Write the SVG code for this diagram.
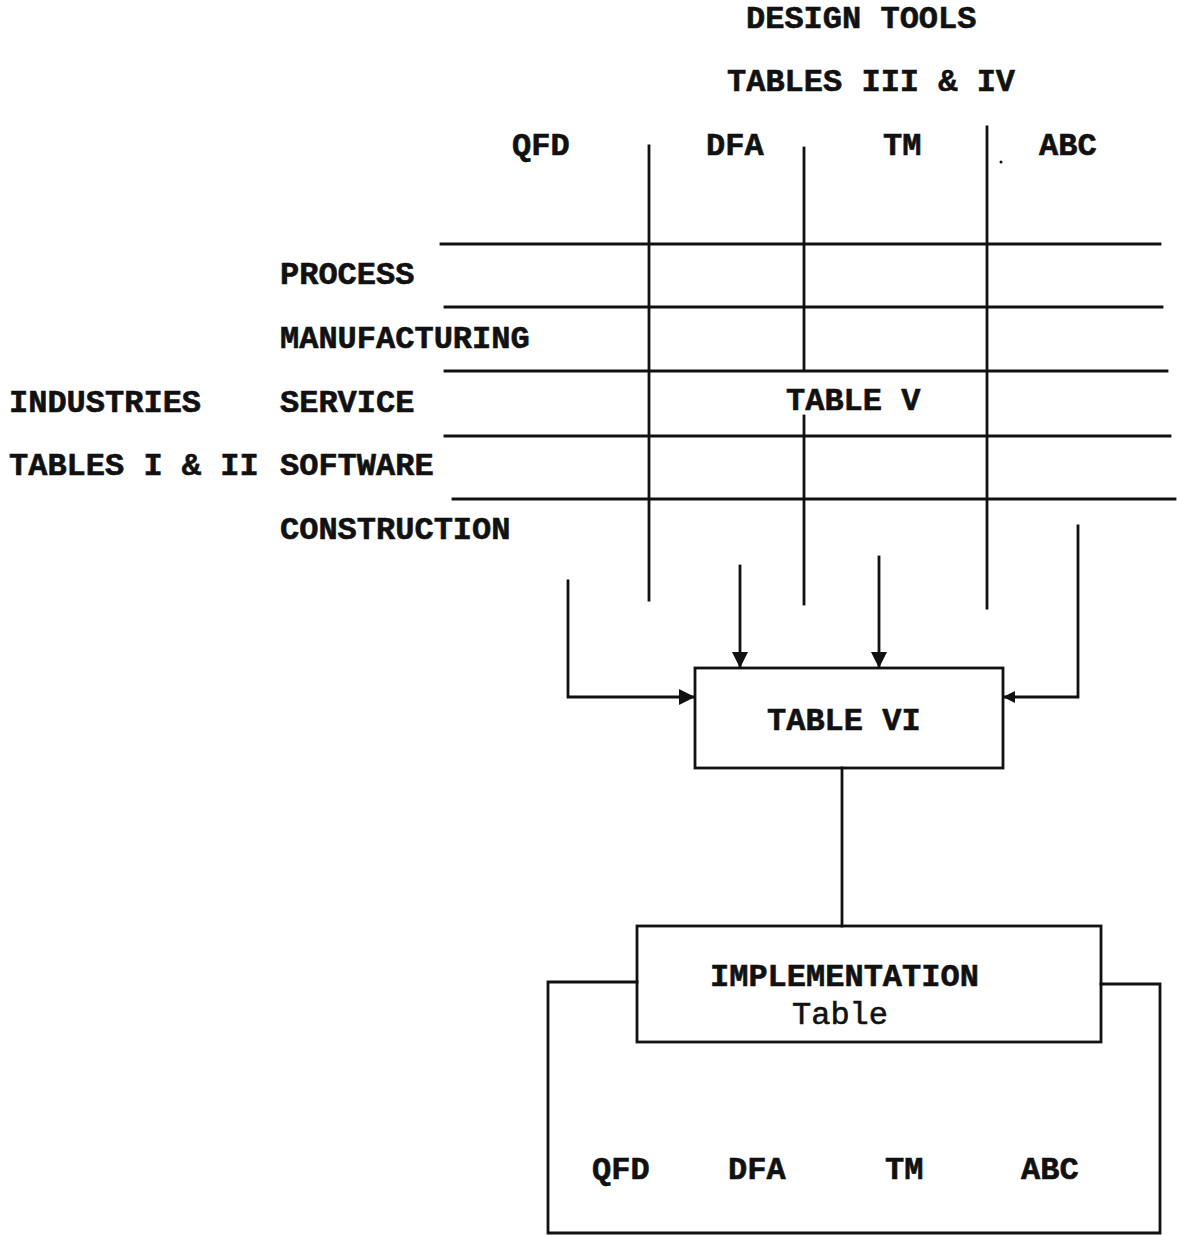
<svg xmlns="http://www.w3.org/2000/svg" width="1177" height="1235" viewBox="0 0 1177 1235">
<style>
  .t { font-family: "Liberation Mono", "Courier New", monospace; font-size: 32px; font-weight: bold; fill: #111; stroke: #111; stroke-width: 0.6; }
  .n { font-family: "Liberation Mono", "Courier New", monospace; font-size: 32px; font-weight: normal; fill: #111; stroke: #111; stroke-width: 0.6; }
  .ln { stroke: #111; stroke-width: 2.8; fill: none; stroke-linecap: square; }
</style>
<defs>
  <marker id="ah" viewBox="0 0 16 16" refX="15" refY="8" markerWidth="16" markerHeight="16" markerUnits="userSpaceOnUse" orient="auto">
    <path d="M0,0 L16,8 L0,16 Z" fill="#111"/>
  </marker>
  <marker id="ahs" viewBox="0 0 12 12" refX="11" refY="6" markerWidth="12" markerHeight="12" markerUnits="userSpaceOnUse" orient="auto">
    <path d="M0,0 L12,6 L0,12 Z" fill="#111"/>
  </marker>
</defs>
<rect width="1177" height="1235" fill="#fff"/>

<g id="header">
  <text class="t" x="746" y="28">DESIGN TOOLS</text>
  <text class="t" x="727" y="91">TABLES III &amp; IV</text>
  <text class="t" x="512" y="155">QFD</text>
  <text class="t" x="706" y="155">DFA</text>
  <text class="t" x="883" y="155">TM</text>
  <text class="t" x="1039" y="155">ABC</text>
  <circle cx="1001" cy="162" r="1.5" fill="#111"/>
</g>

<g id="industries">
  <text class="t" x="9" y="412">INDUSTRIES</text>
  <text class="t" x="9" y="475">TABLES I &amp; II</text>
  <text class="t" x="280" y="284">PROCESS</text>
  <text class="t" x="280" y="348">MANUFACTURING</text>
  <text class="t" x="280" y="412">SERVICE</text>
  <text class="t" x="280" y="475">SOFTWARE</text>
  <text class="t" x="280" y="539">CONSTRUCTION</text>
</g>

<g id="table-v-grid">
  <line class="ln" x1="441" y1="244" x2="1160" y2="244"/>
  <line class="ln" x1="445" y1="307" x2="1162" y2="307"/>
  <line class="ln" x1="445" y1="371" x2="1167" y2="371"/>
  <line class="ln" x1="445" y1="436" x2="1170" y2="436"/>
  <line class="ln" x1="453" y1="499" x2="1175" y2="499"/>
  <line class="ln" x1="649" y1="146" x2="649" y2="600"/>
  <line class="ln" x1="804" y1="148" x2="804" y2="369"/>
  <line class="ln" x1="804" y1="416" x2="804" y2="604"/>
  <line class="ln" x1="987" y1="127" x2="987" y2="608"/>
  <text class="t" x="786" y="410">TABLE V</text>
</g>

<g id="table-vi">
  <rect class="ln" x="695" y="668" width="308" height="100"/>
  <text class="t" x="767" y="730">TABLE VI</text>
</g>

<g id="implementation">
  <rect class="ln" x="637" y="926" width="464" height="116"/>
  <text class="t" x="710" y="986">IMPLEMENTATION</text>
  <text class="n" x="792" y="1024">Table</text>
  <text class="t" x="592" y="1179">QFD</text>
  <text class="t" x="728" y="1179">DFA</text>
  <text class="t" x="885" y="1179">TM</text>
  <text class="t" x="1021" y="1179">ABC</text>
</g>

<g id="connectors">
  <polyline class="ln" points="568,581 568,697 694,697" marker-end="url(#ah)"/>
  <line class="ln" x1="740" y1="566" x2="740" y2="667" marker-end="url(#ah)"/>
  <line class="ln" x1="879" y1="557" x2="879" y2="667" marker-end="url(#ah)"/>
  <polyline class="ln" points="1078,526 1078,697 1004,697" marker-end="url(#ahs)"/>
  <line class="ln" x1="842" y1="768" x2="842" y2="926"/>
  <polyline class="ln" points="637,982 548,982 548,1233 1160,1233 1160,984 1101,984"/>
</g>
</svg>
